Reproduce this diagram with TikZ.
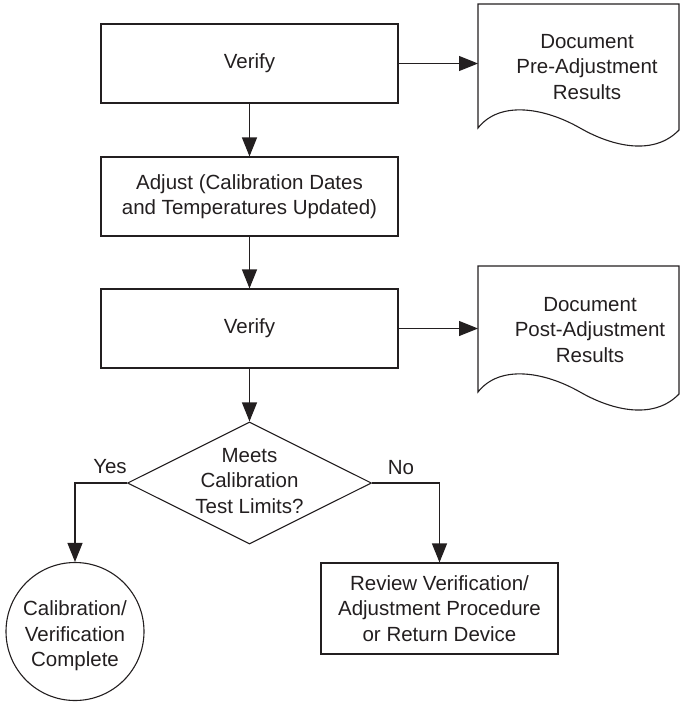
\documentclass[tikz,border=0pt]{standalone}
\usepackage{fontspec}
\setmainfont{Liberation Sans}
\usetikzlibrary{shapes.geometric,arrows.meta}
\definecolor{ink}{HTML}{231F20}
\begin{document}
\begin{tikzpicture}[x=1pt,y=-1pt,
  every node/.style={font=\fontsize{20.5}{25.5}\selectfont, text=ink},
  ln/.style={line width=1.1pt, draw=ink},
  arr/.style={ln, -{Triangle[length=19pt,width=15pt]}},
  box/.style={ln, rectangle, minimum width=297pt, minimum height=79pt, align=center, inner sep=0pt},
  dia/.style={ln, diamond, minimum width=244pt, minimum height=122pt, inner sep=0pt},
  endc/.style={ln, circle, minimum size=138pt, inner sep=0pt},
  rbox/.style={ln, rectangle, minimum width=237pt, minimum height=91pt, align=center, inner sep=0pt},
  doctext/.style={align=center}
]
\useasboundingbox (0,0) rectangle (681,702);

% main column
\node[box] (v1) at (249.5,63.5) {Verify};
\node[box] (adj) at (249.5,196.5) {Adjust (Calibration Dates\\and Temperatures Updated)};
\node[box] (v2) at (249.5,328.5) {Verify};
\node[dia] (dec) at (249.5,483) {};
\node[align=center] (dectext) at ([yshift=2pt]dec.center) {Meets\\Calibration\\Test Limits?};
\node[endc] (done) at (75,631.5) {};
\node[align=center] (donetext) at ([yshift=-4.5pt]done.center) {Calibration/\\Verification\\Complete};
\node[rbox] (rev) at (439.5,608.5) {Review Verification/\\Adjustment Procedure\\or Return Device};

% documents
\draw[ln] (478,128) -- (478,4) -- (679,4) -- (679,130)
  .. controls (655,155) and (615,148) .. (580,128)
  .. controls (545,108) and (500,100) .. (478,128) -- cycle;
\node[doctext] (d1) at (587,67) {Document\\Pre-Adjustment\\Results};
\coordinate (d1in) at (478,63.5);

\draw[ln] (478,392) -- (478,266) -- (679,266) -- (679,394)
  .. controls (655,419) and (615,412) .. (580,392)
  .. controls (545,372) and (500,364) .. (478,392) -- cycle;
\node[doctext] (d2) at (590,330) {Document\\Post-Adjustment\\Results};
\coordinate (d2in) at (478,328.5);

% connectors
\draw[arr] (v1) -- (adj);
\draw[arr] (adj) -- (v2);
\draw[arr] (v2) -- (dec);
\draw[arr] (v1.east) -- (d1in);
\draw[arr] (v2.east) -- (d2in);
\draw[arr] (dec.west) -| (done.north);
\draw[arr] (dec.east) -| (rev.north);

% branch labels
\node (yes) at (110,467) {Yes};
\node (no) at (401,468) {No};
\end{tikzpicture}
\end{document}
